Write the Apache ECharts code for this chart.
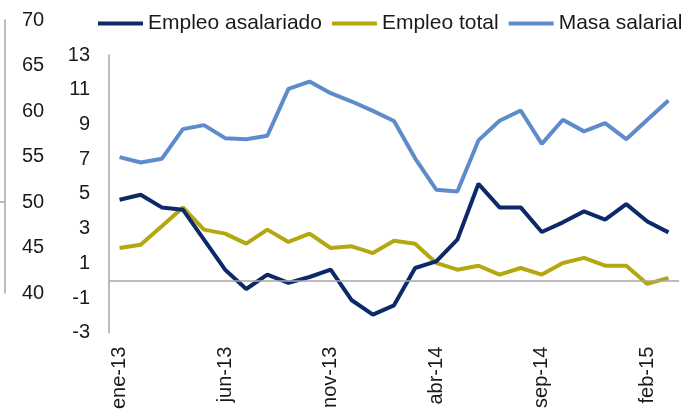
<!DOCTYPE html>
<html>
<head>
<meta charset="utf-8">
<script src="https://cdn.jsdelivr.net/npm/echarts@6/dist/echarts.min.js"></script>
<style>
  html, body { margin: 0; padding: 0; background: #fff; }
  #chart { width: 689px; height: 412px; }
</style>
</head>
<body>
<div id="chart"></div>
<script>
// datos: ene-13 a mar-15
var meses = ["ene-13", "feb-13", "mar-13", "abr-13", "may-13", "jun-13", "jul-13", "ago-13", "sep-13",
    "oct-13", "nov-13", "dic-13", "ene-14", "feb-14", "mar-14", "abr-14", "may-14", "jun-14",
    "jul-14", "ago-14", "sep-14", "oct-14", "nov-14", "dic-14", "ene-15", "feb-15", "mar-15"];
var empleoAsalariado = [4.66, 4.95, 4.22, 4.09, 2.36, 0.63, -0.48, 0.35, -0.13, 0.21, 0.63, -1.13, -1.96, -1.42,
    0.73, 1.11, 2.36, 5.58, 4.22, 4.22, 2.8, 3.36, 3.99, 3.51, 4.41, 3.41, 2.78];
var empleoTotal = [1.88, 2.07, 3.13, 4.22, 2.94, 2.71, 2.13, 2.94, 2.23, 2.71, 1.88, 1.98, 1.59, 2.3,
    2.13, 1.02, 0.63, 0.86, 0.35, 0.73, 0.35, 1.02, 1.31, 0.86, 0.86, -0.19, 0.16];
var masaSalarial = [7.12, 6.81, 7.02, 8.73, 8.96, 8.21, 8.15, 8.35, 11.05, 11.47, 10.8, 10.32, 9.78, 9.2,
    7.05, 5.24, 5.14, 8.08, 9.21, 9.8, 7.88, 9.27, 8.6, 9.07, 8.15, 9.27, 10.38];
var ejeIzq = { min: 40, max: 70, paso: 5 };
var ejeDer = { min: -3, max: 13, paso: 2 };

var fuente = "Liberation Sans, Arial, sans-serif";
var gris = "#a6a6a6";

var myChart = echarts.init(document.getElementById("chart"), null, { renderer: "canvas" });
var option = {
    animation: false,
    backgroundColor: "#fff",
    textStyle: { fontFamily: fuente, color: "#1a1a1a" },
    legend: {
        left: 93,
        top: 8,
        width: 700,
        icon: "rect",
        itemWidth: 45,
        itemHeight: 4,
        itemGap: 10,
        textStyle: { fontSize: 21, color: "#1a1a1a", fontFamily: fuente },
        data: ["Empleo asalariado", "Empleo total", "Masa salarial"]
    },
    grid: [
        { left: 109, right: 10, top: 55, bottom: 79 },
        { left: 5, width: 1, top: 20, height: 273 }
    ],
    xAxis: [{
        type: "category",
        gridIndex: 0,
        data: meses,
        boundaryGap: true,
        axisLine: { show: false },
        axisTick: { show: false },
        axisLabel: {
            interval: 4,
            rotate: 90,
            margin: 14,
            fontSize: 20,
            color: "#1a1a1a",
            fontFamily: fuente
        }
    }, {
        type: "category",
        gridIndex: 1,
        show: false,
        data: ["x"]
    }],
    yAxis: [{
        type: "value",
        gridIndex: 0,
        min: ejeDer.min,
        max: ejeDer.max,
        interval: ejeDer.paso,
        axisLine: { show: true, lineStyle: { color: gris, width: 1.5 } },
        axisTick: { show: false },
        splitLine: { show: false },
        axisLabel: { margin: 19, fontSize: 20, color: "#1a1a1a", fontFamily: fuente }
    }, {
        type: "value",
        gridIndex: 1,
        min: ejeIzq.min,
        max: ejeIzq.max,
        interval: ejeIzq.paso,
        axisLine: { show: true, lineStyle: { color: gris, width: 1.5 } },
        axisTick: { show: true, customValues: [50], length: 5, lineStyle: { color: gris, width: 1.5 } },
        splitLine: { show: false },
        axisLabel: { inside: true, margin: 17, fontSize: 20, color: "#1a1a1a", fontFamily: fuente }
    }],
    series: [{
        name: "Empleo asalariado",
        type: "line",
        data: empleoAsalariado,
        symbol: "none",
        z: 3,
        lineStyle: { color: "#0c2a68", width: 4 },
        itemStyle: { color: "#0c2a68" },
        markLine: {
            silent: true,
            symbol: "none",
            label: { show: false },
            lineStyle: { color: gris, width: 1.5, type: "solid" },
            data: [{ yAxis: 0 }]
        }
    }, {
        name: "Empleo total",
        type: "line",
        data: empleoTotal,
        symbol: "none",
        z: 2,
        lineStyle: { color: "#b5a710", width: 4 },
        itemStyle: { color: "#b5a710" }
    }, {
        name: "Masa salarial",
        type: "line",
        data: masaSalarial,
        symbol: "none",
        z: 2,
        lineStyle: { color: "#5e8ccb", width: 4 },
        itemStyle: { color: "#5e8ccb" }
    }]
};
myChart.setOption(option);
</script>
</body>
</html>
